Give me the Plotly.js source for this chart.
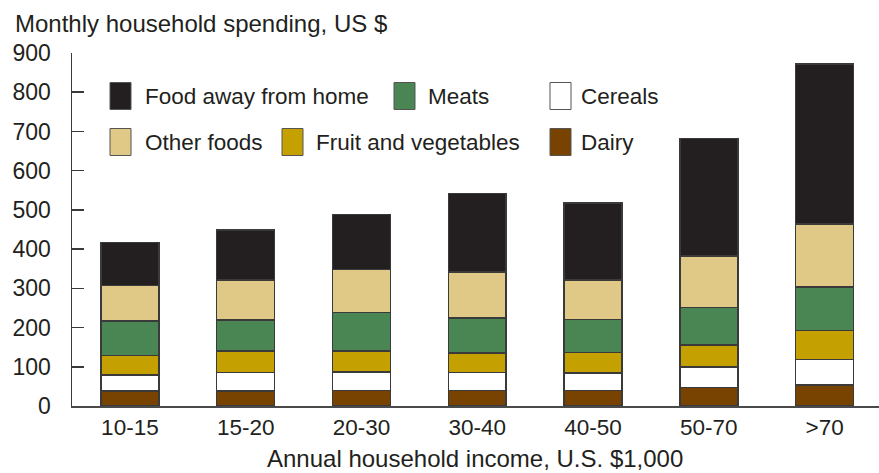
<!DOCTYPE html>
<html>
<head>
<meta charset="utf-8">
<script src="https://cdn.plot.ly/plotly-3.0.1.min.js"></script>
<style>html,body{margin:0;padding:0;background:#fff;}#chart{width:879px;height:473px;}</style>
</head>
<body>
<div id="chart"></div>
<script>
// Categories (annual household income, U.S. $1,000)
const categories = ["10-15", "15-20", "20-30", "30-40", "40-50", "50-70", ">70"];

// Monthly household spending by component, US $ (stacked bottom to top)
const dairy        = [38, 38, 39, 39, 39, 47, 53];
const cereals      = [41, 48, 48, 46, 45, 52, 65];
const fruitVeg     = [50, 54, 53, 50, 52, 56, 75];
const meats        = [88, 79, 99, 90, 85, 96, 111];
const otherFoods   = [90, 102, 109, 117, 100, 132, 160];
const foodAway     = [110, 128, 140, 200, 197, 299, 408];

const seriesNames  = ["Dairy", "Cereals", "Fruit and vegetables", "Meats", "Other foods", "Food away from home"];
const seriesValues = [dairy, cereals, fruitVeg, meats, otherFoods, foodAway];
const seriesColors = ["#784200", "#ffffff", "#c4a100", "#4a8654", "#e0c986", "#231f20"];

const yTicks = [0, 100, 200, 300, 400, 500, 600, 700, 800, 900];

const FONT = "Liberation Sans, Arial, Helvetica, sans-serif";
const TXT = "#231f20";

const W = 879, H = 473;
const M = {l: 72, r: 0, t: 53, b: 67};
const pw = W - M.l - M.r, ph = H - M.t - M.b;
const px = x => (x - M.l) / pw;
const py = y => (H - M.b - y) / ph;

const traces = seriesNames.map((name, i) => ({
  type: "bar",
  name: name,
  x: categories,
  y: seriesValues[i],
  width: 0.5,
  marker: {color: seriesColors[i], line: {color: "#3a3a3a", width: 1.5}},
  hoverinfo: "x+y+name",
  showlegend: false
}));

// Legend layout (row, swatch x, text x)
const legendItems = [
  {name: "Food away from home", row: 0, sx: 110, tx: 143},
  {name: "Meats", row: 0, sx: 394, tx: 426},
  {name: "Cereals", row: 0, sx: 550, tx: 579},
  {name: "Other foods", row: 1, sx: 110, tx: 143},
  {name: "Fruit and vegetables", row: 1, sx: 282, tx: 314},
  {name: "Dairy", row: 1, sx: 550, tx: 579}
];
const rowY = [96, 142];
const shapes = [], annotations = [];
legendItems.forEach(it => {
  const c = seriesColors[seriesNames.indexOf(it.name)];
  const cy = rowY[it.row];
  shapes.push({type: "rect", xref: "paper", yref: "paper",
    x0: px(it.sx), x1: px(it.sx + 21), y0: py(cy - 13.5), y1: py(cy + 13.5),
    fillcolor: c, line: {color: "#555", width: 1}});
  annotations.push({xref: "paper", yref: "paper", x: px(it.tx), y: py(cy),
    xanchor: "left", yanchor: "middle", showarrow: false, text: it.name,
    font: {family: FONT, size: 22.5, color: TXT}});
});
annotations.push({xref: "paper", yref: "paper", x: px(13), y: py(23),
  xanchor: "left", yanchor: "middle", showarrow: false,
  text: "Monthly household spending, US $", font: {family: FONT, size: 24, color: TXT}});
annotations.push({xref: "paper", yref: "paper", x: px(475), y: py(458),
  xanchor: "center", yanchor: "middle", showarrow: false,
  text: "Annual household income, U.S. $1,000", font: {family: FONT, size: 24, color: TXT}});

const layout = {
  width: W, height: H,
  margin: M,
  paper_bgcolor: "#fff", plot_bgcolor: "#fff",
  barmode: "stack",
  showlegend: false,
  font: {family: FONT, size: 22, color: TXT},
  xaxis: {
    type: "category",
    range: [-0.5, 6.47],
    showline: true, linecolor: "#4a4a4a", linewidth: 1.5,
    ticks: "", showgrid: false, zeroline: false,
    tickfont: {family: FONT, size: 22.5, color: TXT},
    fixedrange: true
  },
  yaxis: {
    range: [0, 900],
    tickvals: yTicks,
    ticktext: yTicks.map(String),
    showline: true, linecolor: "#3a3a3a", linewidth: 1.5,
    ticks: "inside", ticklen: 12, tickwidth: 1.5, tickcolor: "#3a3a3a",
    showgrid: false, zeroline: false,
    tickfont: {family: FONT, size: 23, color: TXT},
    ticklabelstandoff: 15,
    fixedrange: true
  },
  shapes: shapes,
  annotations: annotations
};

Plotly.newPlot("chart", traces, layout, {displayModeBar: false, staticPlot: true});
</script>
</body>
</html>
